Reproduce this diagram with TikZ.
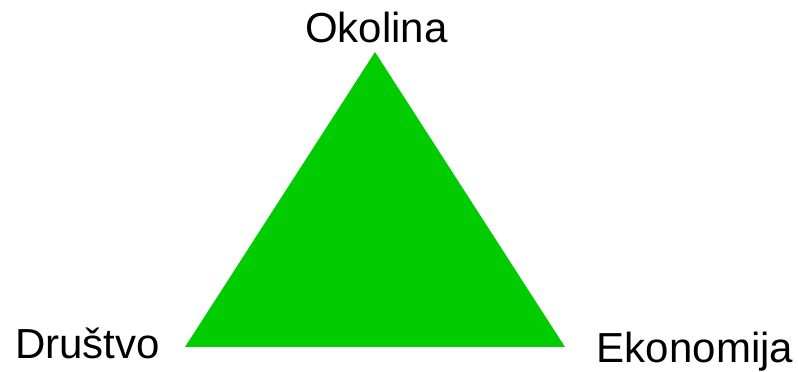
\documentclass[tikz,border=0pt]{standalone}
\usepackage{fontspec}
\setmainfont{Liberation Sans}
\definecolor{trigreen}{HTML}{00CC00}
\tikzset{lbl/.style={anchor=base, inner sep=0pt, font=\fontsize{42}{48}\selectfont}}
\begin{document}
\begin{tikzpicture}[x=1pt,y=1pt]
\useasboundingbox (0,0) rectangle (798,372);
\coordinate (top) at (375,320);
\coordinate (bl) at (185,25);
\coordinate (br) at (565,25);
\fill[trigreen] (top) -- (bl) -- (br) -- cycle;
\node[lbl] (okolina) at (376.5,329) {Okolina};
\node[lbl] (drustvo) at (87.5,13) {Društvo};
\node[lbl] (ekonomija) at (695,9) {Ekonomija};
\end{tikzpicture}
\end{document}
